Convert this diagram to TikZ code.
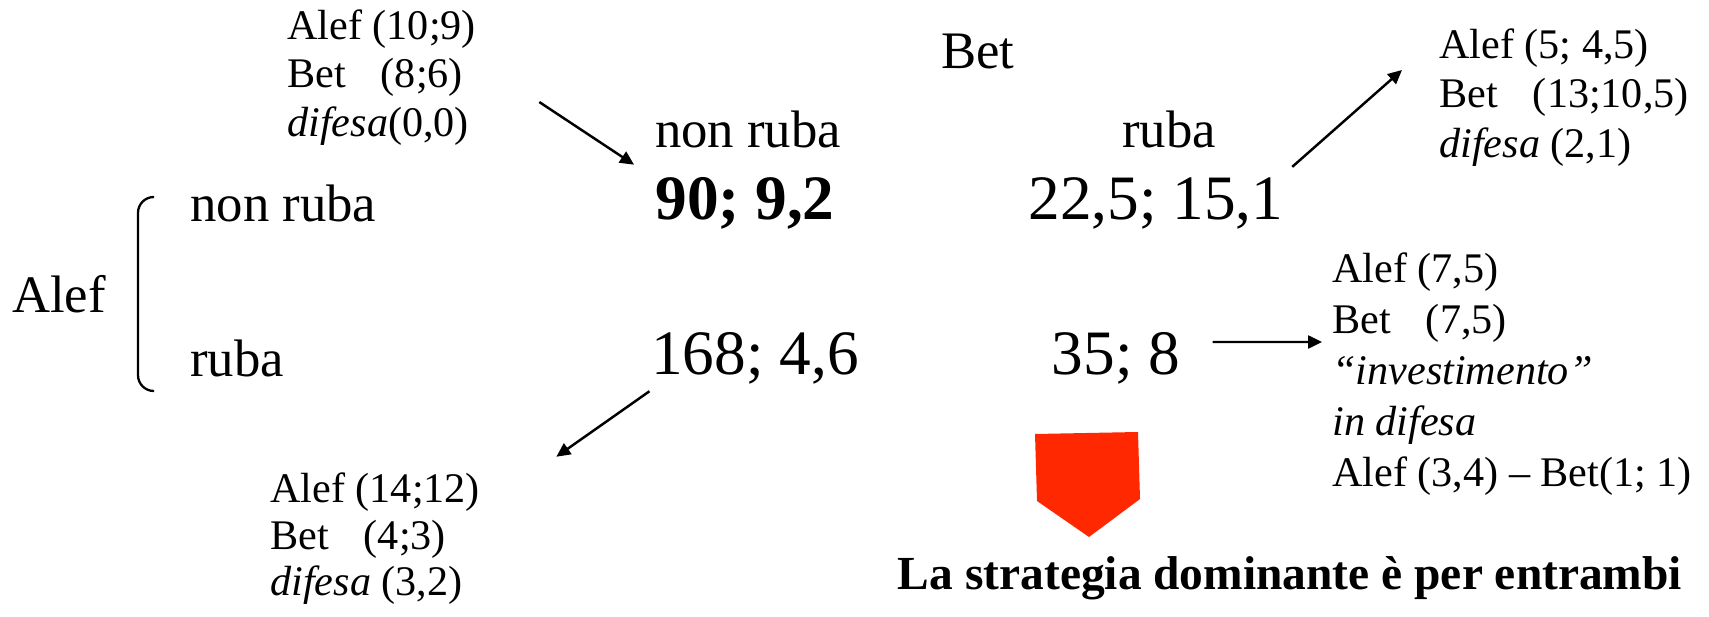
\documentclass[tikz,border=0pt]{standalone}
\usepackage{fontspec}
\setmainfont{Liberation Serif}
\usetikzlibrary{arrows.meta}

\begin{document}
\begin{tikzpicture}[move label/.style={font=\fontsize{30}{36}\selectfont,inner sep=0pt},
                    payoff/.style={font=\fontsize{36}{43}\selectfont,inner sep=0pt},
                    outcome/.style={font=\fontsize{24}{27.5}\selectfont,inner sep=0pt,align=left,anchor=west},
                    link/.style={line width=1.4pt,-{Triangle[length=0.28cm,width=0.26cm]}},
                    brace line/.style={line width=1.3pt,rounded corners=9pt}]
    \coordinate (brace top) at (3.08,8.38);
    \coordinate (brace bottom) at (3.08,4.5);

    \path[use as bounding box] (0,0) rectangle (34.18,12.32);

    % players and moves
    \node[move label] (bet) at (19.56,11.28) {Bet};
    \node[move label] (col nr) at (14.96,9.74) {non ruba};
    \node[move label] (col r) at (23.38,9.74) {ruba};
    \node[move label,anchor=west] (row nr) at (3.8,8.26) {non ruba};
    \node[move label,anchor=west] (row r) at (3.8,5.16) {ruba};
    \node[move label] (alef) at (1.18,6.44) {Alef};
    \draw[brace line] (brace top) -| (2.76,6.44) |- (brace bottom);

    % payoffs
    \node[payoff,font=\fontsize{36}{43}\selectfont\bfseries] (p nn) at (14.9,8.26) {90; 9,2};
    \node[payoff] (p nr) at (23.12,8.26) {22,5; 15,1};
    \node[payoff] (p rn) at (15.1,5.16) {168; 4,6};
    \node[payoff] (p rr) at (22.32,5.16) {35; 8};

    % detail of each outcome
    \node[outcome] (d nn) at (5.74,10.77) {Alef (10;9)\\Bet\hspace{0.83em}(8;6)\\\textit{difesa}(0,0)};
    \node[outcome,font=\fontsize{24}{28.2}\selectfont] (d nr) at (28.78,10.37) {Alef (5; 4,5)\\Bet\hspace{0.83em}(13;10,5)\\\textit{difesa} (2,1)};
    \node[outcome,font=\fontsize{24}{26.5}\selectfont] (d rn) at (5.4,1.54) {Alef (14;12)\\Bet\hspace{0.83em}(4;3)\\\textit{difesa} (3,2)};
    \node[outcome,font=\fontsize{24}{29}\selectfont] (d rr) at (26.64,4.83) {Alef (7,5)\\Bet\hspace{0.83em}(7,5)\\\textit{``investimento''}\\\textit{in difesa}\\Alef (3,4) -- Bet(1; 1)};

    \draw[link] ([shift={(1.26,-0.49)}]d nn.east) -- ([shift={(-0.42,0.24)}]p nn.north west);
    \draw[link] ([shift={(0.17,0.2)}]p nr.north east) -- ([shift={(-0.74,0.55)}]d nr.west);
    \draw[link] ([shift={(-0.03,-0.14)}]p rn.south west) -- ([shift={(1.52,0.32)}]d rn.north east);
    \draw[link] ([shift={(0.64,0.32)}]p rr.east) -- ([shift={(-0.2,0.65)}]d rr.west);

    % conclusion
    \fill[fill={rgb,255:red,255;green,40;blue,0}] (20.7,3.64) -- (22.76,3.68) -- (22.8,2.34) -- (21.78,1.58) -- (20.74,2.30) -- cycle;
    \node[inner sep=0pt,font=\fontsize{27}{32}\selectfont\bfseries] (verdict) at (25.8,0.76) {La strategia dominante è per entrambi};
\end{tikzpicture}
\end{document}
